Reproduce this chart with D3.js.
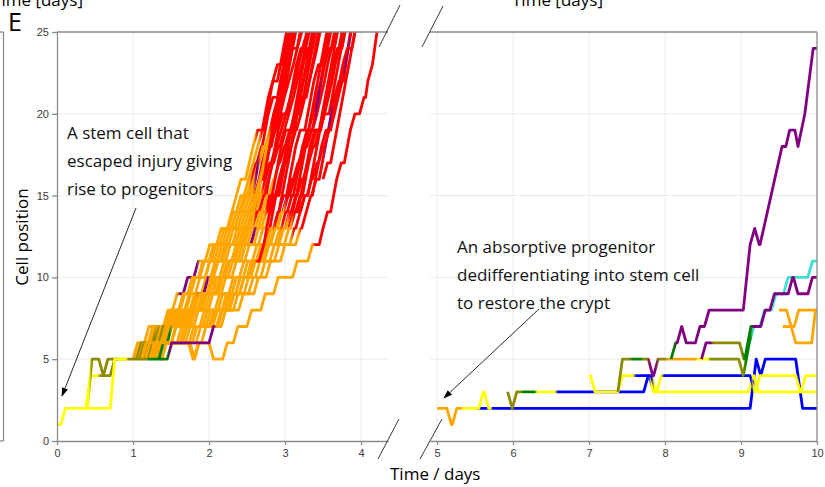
<!DOCTYPE html>
<html>
<head>
<meta charset="utf-8">
<script src="https://cdn.jsdelivr.net/npm/d3@7"></script>
<style>
  body { margin: 0; background: #fff; }
  svg { display: block; }
</style>
</head>
<body>
<svg id="chart" width="825" height="487"></svg>
<script>
// Cell-state colours
const stateColors = {
  Y: "#ffff00",   // yellow
  O: "#8b8b00",   // olive
  G: "#008000",   // green
  A: "#ffa500",   // orange
  P: "#800080",   // purple
  R: "#ff0000",   // red
  B: "#0000ff",   // blue
  T: "#40e0d0"    // turquoise
};

const yTicks = [0, 5, 10, 15, 20, 25];
const xTicksLeft = [0, 1, 2, 3, 4];
const xTicksRight = [5, 6, 7, 8, 9, 10];

// Trajectories: start [time, position]; moves are either a time (one position up)
// or [time, newPosition, duration?]; colors are [state, time of change].
const leftTracks = [
  // cells arising higher up in the lineage
  {start:[2.3,11], moves:[2.3,2.4,2.52,2.58,2.62,2.66,2.70,2.82,2.86,2.90,2.94,2.98,3.02,3.06,3.10], colors:[["A",0],["R",2.5]]},
  {start:[2.5,10], moves:[2.5,2.62,2.74,2.80,2.84,2.88,2.92,3.04,3.08,3.12,3.16,3.20,3.24,3.28,3.32,3.36], colors:[["A",0],["R",2.7]]},
  {start:[2.75,12], moves:[2.75,2.85,2.92,2.96,3.00,3.04,3.08,3.12,3.16,3.28,3.32,3.36,3.40,3.44], colors:[["A",0],["R",2.8]]},
  {start:[2.9,12], moves:[2.9,3.0,3.1,3.15,3.19,3.23,3.27,3.31,3.35,3.39,3.43,3.47,3.51,3.55], colors:[["A",0],["R",3.0]]},
  {start:[3.05,13], moves:[3.05,3.17,3.21,3.25,3.29,3.33,3.45,3.49,3.53,3.57,3.61,3.65,3.69], colors:[["R",0]]},
  {start:[3.2,14], moves:[3.2,3.3,3.34,3.38,3.42,3.46,3.58,3.62,3.66,3.70,3.74,3.78], colors:[["R",0]]},
  {start:[3.35,15], moves:[3.35,3.45,3.49,3.53,3.57,3.61,3.65,3.77,3.80,3.83,3.86], colors:[["R",0],["P",3.52],["R",3.62]]},
  {start:[2.6,14], moves:[2.6,2.64,2.68,2.72,2.76,2.88,2.92,2.96,3.00,3.04,3.08,3.12], colors:[["R",0]]},
  {start:[2.2,10], moves:[2.2,2.34,2.46,2.52,2.56,2.6,2.72,2.76,2.8,2.84,2.88,2.92,2.96,3.0,3.04,3.08], colors:[["A",0],["R",2.55]]},
  {start:[3.5,16], moves:[3.5,3.6,3.64,3.68,3.72,3.76,3.8,3.84,3.88,3.92], colors:[["R",0]]},
  // progenitors leaving position 5
  {start:[1.0,5], moves:[1.00,1.15,1.40,1.52,1.66,1.80,1.95,2.10,2.24,2.30,2.36,2.48,2.53,2.58,2.70,2.74,2.78,2.90,2.94,2.98,3.02], colors:[["A",0],["P",1.6],["A",1.86],["R",2.62]]},
  {start:[1.02,5], moves:[1.02,1.20,1.43,1.60,1.72,1.86,2.00,2.14,2.26,2.36,2.46,2.52,2.58,2.64,2.72,2.76,2.80,2.84,2.95,3.00,3.05], colors:[["A",0],["R",2.68]]},
  {start:[1.03,5], moves:[1.03,1.25,1.46,1.62,1.75,1.88,2.03,2.18,2.30,2.40,2.50,2.56,2.63,2.70,2.74,2.78,2.90,2.94,2.98,3.02,3.06], colors:[["A",0],["R",2.55]]},
  {start:[1.04,5], moves:[1.04,1.23,1.49,1.70,1.76,1.95,2.07,2.22,2.34,2.43,2.53,2.59,2.66,2.74,2.80,2.86,2.92,2.97,3.03,3.09,3.13], colors:[["A",0],["R",2.85]]},
  {start:[1.05,5], moves:[1.05,1.26,1.52,1.68,1.82,1.95,2.11,2.26,2.38,2.47,2.57,2.61,2.65,2.77,2.81,2.85,2.98,3.02,3.06,3.10,3.14], colors:[["O",0],["A",1.3],["P",2.6],["A",2.66],["R",2.75]]},
  {start:[1.07,5], moves:[1.07,1.29,1.55,[1.62,7],1.68,1.80,1.92,2.02,2.15,2.31,2.42,2.51,2.61,2.67,2.74,2.81,2.88,2.94,2.99,3.05,3.11,3.16,3.22], colors:[["O",0],["A",1.35],["R",2.7]]},
  {start:[1.08,5], moves:[1.08,1.31,1.58,1.75,1.90,2.03,2.18,2.35,2.46,2.55,2.64,2.68,2.72,2.76,2.80,2.92,2.96,3.00,3.04,3.16,3.20], colors:[["A",0],["R",2.8]]},
  {start:[1.09,5], moves:[1.09,1.34,1.61,1.78,1.93,2.06,2.22,2.39,2.50,2.58,2.68,2.74,2.82,2.89,2.95,3.01,3.07,3.13,3.18,3.23,3.29], colors:[["O",0],["A",1.45],["P",1.85],["A",2.0],["R",2.7]]},
  {start:[1.11,5], moves:[1.11,1.37,1.64,1.81,1.97,[2.05,9],2.12,2.20,2.30,2.43,2.53,2.62,2.72,2.78,2.85,2.93,2.99,3.05,3.11,3.16,3.22,3.27,3.32], colors:[["A",0],["R",2.72]]},
  {start:[1.12,5], moves:[1.12,1.39,1.67,1.85,2.00,2.14,2.30,2.47,2.57,2.66,2.75,2.79,2.83,2.87,2.91,3.03,3.07,3.11,3.15,3.26,3.30], colors:[["A",0],["R",2.6]]},
  {start:[1.14,5], moves:[1.14,1.42,1.70,1.88,2.04,2.18,2.34,2.51,2.61,2.70,2.79,2.86,2.93,3.00,3.07,3.13,3.19,3.24,3.29,3.34,3.39], colors:[["A",0],["R",2.9]]},
  {start:[1.15,5], moves:[1.15,1.45,1.73,1.91,2.08,2.21,2.38,2.55,2.65,2.74,2.83,2.87,2.91,2.95,3.08,3.12,3.16,3.20,3.24,3.36,3.40], colors:[["G",0],["A",1.5],["P",2.5],["A",2.62],["R",2.75]]},
  {start:[1.16,5], moves:[1.16,[1.31,5],1.38,1.50,1.76,1.95,2.11,2.25,2.42,2.59,2.69,2.77,2.87,2.93,3.01,3.08,3.15,3.21,3.26,3.32,3.37,3.42,3.46], colors:[["A",0],["R",2.75]]},
  {start:[1.18,5], moves:[1.18,1.51,1.80,1.99,2.16,2.30,2.47,2.65,2.74,2.82,2.92,2.96,3.00,3.04,3.08,3.20,3.24,3.28,3.32,3.36,3.40], colors:[["A",0],["R",2.8]]},
  {start:[1.20,5], moves:[1.20,[1.73,5],1.80,1.90,2.03,2.21,2.35,2.52,2.70,2.80,2.87,2.97,3.03,3.11,3.18,3.25,3.31,3.37,3.42,3.47,3.51,3.56,3.60], colors:[["O",0],["A",1.35],["P",2.95],["R",3.04]]},
  {start:[1.22,5], moves:[1.22,1.58,1.88,2.08,2.26,2.40,2.57,2.76,2.85,2.92,3.02,3.06,3.10,3.14,3.26,3.30,3.34,3.38,3.50,3.54,3.58], colors:[["A",0],["R",2.85]]},
  {start:[1.23,5], moves:[1.23,1.62,1.92,2.12,2.30,2.45,2.63,2.81,2.90,2.98,3.06,3.14,3.21,3.29,3.36,3.42,3.47,3.52,3.56,3.61,3.65], colors:[["A",0],["R",3.0]]},
  {start:[1.25,5], moves:[1.25,1.65,1.96,2.17,2.35,2.50,2.68,2.87,2.95,3.03,3.11,3.15,3.19,3.23,3.36,3.40,3.44,3.48,3.52,3.64,3.68], colors:[["A",0],["R",2.95],["P",3.4],["R",3.47]]},
  {start:[1.27,5], moves:[1.27,1.69,2.00,2.21,2.40,2.55,2.73,2.92,3.01,3.08,3.16,3.24,3.31,3.39,3.46,3.52,3.57,3.62,3.66,3.71,3.75], colors:[["A",0],["R",3.05]]},
  {start:[1.29,5], moves:[1.29,1.74,2.05,2.27,2.46,2.61,2.80,2.99,3.07,3.14,3.23,3.27,3.31,3.35,3.47,3.51,3.55,3.59,3.63,3.75,3.79], colors:[["A",0],["R",3.1]]},
  {start:[1.32,5], moves:[1.32,1.78,2.10,2.32,2.52,2.68,2.86,3.06,3.14,3.20,3.29,3.36,3.44,3.52,3.59,3.65,3.70,3.75,3.79,3.83,3.87], colors:[["A",0],["R",3.1],["P",3.78],["R",3.85]]},
  {start:[1.34,5], moves:[1.34,1.83,2.16,2.39,2.59,2.75,2.94,3.14,3.22,3.28,3.36,3.40,3.44,3.48,3.60,3.64,3.68,3.72,3.76,3.88,3.92], colors:[["G",0],["A",1.42],["R",3.2]]},
  {start:[1.12,5], moves:[1.12,[1.75,5],1.81,[2.0,5],2.18,2.32,2.50,2.68,2.85,3.10,3.30,3.45,3.50,3.60,3.64,3.68,3.78,3.82,3.86,3.98,4.06,4.09,4.15,4.18,4.21], colors:[["A",0],["R",3.38]]},
  // stem cell that escaped injury and its early daughters
  {start:[0.38,2], moves:[[0.38,4],[0.70,5]], end:0.9, colors:[["Y",0],["O",0.55]]},
  {start:[0.40,2], moves:[[0.40,5],[0.55,4],0.61], end:0.8, colors:[["Y",0],["O",0.44]]},
  {start:[0,1], moves:[0.05,[0.70,5],1.45,2.0,2.12,2.25,2.4,2.52,2.66,2.72,2.76,2.80,2.9,2.94,2.98,3.02,3.1,3.14,3.17,3.2,3.23,3.26,3.29], colors:[["Y",0],["O",0.92],["G",1.2],["P",1.47],["A",2.08],["R",2.62]]}
];

const rightTracks = [
  {start:[5.0,2], moves:[[5.13,1],5.2,[9.12,5,0.08],[9.2,4],9.26,[9.72,2,0.09]], end:10, colors:[["A",5],["Y",5.33],["B",5.52]]},
  {start:[5.5,2], moves:[5.55,[5.62,2]], end:5.72, colors:[["Y",5.5]]},
  {start:[5.93,3], moves:[[5.93,2],5.99,7.72,[7.79,3],9.10,[9.17,3]], end:10, colors:[["O",5.93],["G",6.12],["Y",6.3],["B",6.57],["Y",7.8]]},
  {start:[7.0,4], moves:[[7.02,3],7.38,[7.82,3],7.89,[9.12,3],9.19,[9.72,3],9.79], end:10, colors:[["Y",7],["B",7.6],["Y",7.84],["B",7.97],["Y",9.15]]},
  {start:[7.38,3], moves:[[7.38,5],[7.78,4],7.85,[8.97,4],[9.03,6,0.08],9.11,9.25,9.40,9.56,9.88], end:10, colors:[["O",7.38],["G",7.55],["O",7.7],["P",7.78],["O",7.9],["A",8.02],["Y",8.42],["O",8.58],["G",9.05],["T",9.14]]},
  {start:[8.08,5], moves:[8.08,8.16,[8.22,6],8.40,8.52,[9.03,12,0.09],9.12,[9.18,12],[9.25,18,0.29],[9.59,19,0.05],[9.71,18,0.04],[9.75,20,0.09],[9.84,24,0.11]], end:10, colors:[["G",8.08],["P",8.14]]},
  {start:[8.48,5], moves:[8.48,[8.98,5],[9.05,7,0.08],9.26,9.38,9.62,[9.69,9],9.88], end:10, colors:[["P",8.48],["O",8.62],["G",9.03],["P",9.15]]},
  {start:[9.5,8], moves:[[9.6,7],9.7], end:10, colors:[["A",9.5]]},
  {start:[9.55,7], moves:[[9.66,6],[9.93,8,0.05]], end:10, colors:[["A",9.55]]}
];

const RAMP = 0.06;   // time a single move takes, in days
const BLEND = 0.02;  // half-width of a colour transition, in days

const svg = d3.select("#chart");
const defs = svg.append("defs");

const y = d3.scaleLinear().domain([0, 25]).range([441, 32]);
const xL = d3.scaleLinear().domain([0, 4.355]).range([57, 388]);
const xR = d3.scaleLinear().domain([4.908, 10]).range([430, 817]);

const gridColor = "#ebebeb";
const frameColor = "#8a8a8a";

// clip regions
defs.append("clipPath").attr("id", "clipL").append("rect")
  .attr("x", xL(0)).attr("y", y(25)).attr("width", xL(4.355) - xL(0)).attr("height", y(0) - y(25));
defs.append("clipPath").attr("id", "clipR").append("rect")
  .attr("x", xR(4.908)).attr("y", y(25)).attr("width", xR(10) - xR(4.908)).attr("height", y(0) - y(25));

// arrowhead
defs.append("marker").attr("id", "arrow").attr("viewBox", "0 0 10 10")
  .attr("refX", 9).attr("refY", 5).attr("markerWidth", 9).attr("markerHeight", 9)
  .attr("markerUnits", "userSpaceOnUse").attr("orient", "auto")
  .append("path").attr("d", "M0,1.5 L10,5 L0,8.5 Z").attr("fill", "#000");

// gridlines
function grid(x, xTicks, x0, x1) {
  const g = svg.append("g");
  g.selectAll(".vg").data(xTicks).join("line")
    .attr("x1", d => x(d)).attr("x2", d => x(d))
    .attr("y1", y(0)).attr("y2", y(25))
    .attr("stroke", gridColor).attr("stroke-width", 1);
  g.selectAll(".hg").data([5, 10, 15, 20]).join("line")
    .attr("x1", x(x0)).attr("x2", x(x1))
    .attr("y1", d => y(d)).attr("y2", d => y(d))
    .attr("stroke", gridColor).attr("stroke-width", 1);
}
grid(xL, xTicksLeft.slice(1), 0, 4.355);
grid(xR, xTicksRight.slice(0, -1), 4.908, 10);

// build the polyline of one trajectory
function vertices(track) {
  const pts = [[track.start[0], track.start[1]]];
  let p = track.start[1];
  let last = track.start[0];
  const mv = [];
  for (const m of track.moves) {
    if (Array.isArray(m)) mv.push({t: m[0], p: m[1], d: m[2] ?? RAMP});
    else { mv.push({t: m, p: null, d: RAMP}); }
  }
  mv.forEach((m, i) => {
    const target = m.p === null ? p + 1 : m.p;
    let arrive = m.t + m.d;
    if (i + 1 < mv.length && mv[i + 1].t < arrive) arrive = mv[i + 1].t;
    if (m.t > last + 1e-6) pts.push([m.t, p]);
    pts.push([arrive, target]);
    p = target;
    last = arrive;
  });
  if (track.end !== undefined && track.end > last) pts.push([track.end, p]);
  return pts;
}

let gradId = 0;
function drawTracks(tracks, x, clipId) {
  const g = svg.append("g").attr("clip-path", `url(#${clipId})`);
  const line = d3.line().x(d => x(d[0])).y(d => y(d[1]));
  tracks.forEach(track => {
    const pts = vertices(track);
    const t0 = pts[0][0], t1 = pts[pts.length - 1][0];
    let stroke;
    if (track.colors.length === 1) {
      stroke = stateColors[track.colors[0][0]];
    } else {
      const id = "g" + (gradId++);
      const grad = defs.append("linearGradient").attr("id", id)
        .attr("gradientUnits", "userSpaceOnUse")
        .attr("x1", x(t0)).attr("x2", x(t1)).attr("y1", 0).attr("y2", 0);
      const off = t => Math.max(0, Math.min(1, (t - t0) / (t1 - t0)));
      let prev = track.colors[0][0];
      grad.append("stop").attr("offset", 0).attr("stop-color", stateColors[prev]);
      track.colors.slice(1).forEach(([c, tc]) => {
        grad.append("stop").attr("offset", off(tc - BLEND)).attr("stop-color", stateColors[prev]);
        grad.append("stop").attr("offset", off(tc + BLEND)).attr("stop-color", stateColors[c]);
        prev = c;
      });
      grad.append("stop").attr("offset", 1).attr("stop-color", stateColors[prev]);
      stroke = `url(#${id})`;
    }
    g.append("path").attr("d", line(pts)).attr("fill", "none")
      .attr("stroke", stroke).attr("stroke-width", 2.8)
      .attr("stroke-linejoin", "round");
  });
}
drawTracks(leftTracks, xL, "clipL");
drawTracks(rightTracks, xR, "clipR");

// axes and frame
const tickFont = "'Liberation Sans', Arial, sans-serif";
function styleAxis(g) {
  g.select(".domain").attr("stroke", frameColor).attr("stroke-width", 1.3);
  g.selectAll(".tick line").attr("stroke", frameColor).attr("stroke-width", 1.3);
  g.selectAll(".tick text").attr("fill", "#3a3a3a").attr("font-size", 11).attr("font-family", tickFont);
}
const fmt = d3.format("d");
svg.append("g").attr("transform", `translate(${xL(0)},0)`)
  .call(d3.axisLeft(y).tickValues(yTicks).tickFormat(fmt).tickSize(5).tickSizeOuter(0).tickPadding(3))
  .call(styleAxis);
svg.append("g").attr("transform", `translate(0,${y(0)})`)
  .call(d3.axisBottom(xL).tickValues(xTicksLeft).tickFormat(fmt).tickSize(4).tickSizeOuter(0).tickPadding(4))
  .call(styleAxis);
svg.append("g").attr("transform", `translate(0,${y(0)})`)
  .call(d3.axisBottom(xR).tickValues(xTicksRight).tickFormat(fmt).tickSize(4).tickSizeOuter(0).tickPadding(4))
  .call(styleAxis);

const frame = svg.append("g").attr("stroke", frameColor).attr("stroke-width", 1.3);
frame.append("line").attr("x1", xL(0)).attr("x2", xL(4.355)).attr("y1", y(25)).attr("y2", y(25));
frame.append("line").attr("x1", xR(4.908)).attr("x2", xR(10)).attr("y1", y(25)).attr("y2", y(25));
frame.append("line").attr("x1", xR(10)).attr("x2", xR(10)).attr("y1", y(25)).attr("y2", y(0));

// edge of the neighbouring panel
const edge = svg.append("g").attr("stroke", frameColor).attr("stroke-width", 1.3);
edge.append("line").attr("x1", 3.5).attr("x2", 3.5).attr("y1", y(25)).attr("y2", y(0));
edge.append("line").attr("x1", 0).attr("x2", 3.5).attr("y1", y(25)).attr("y2", y(25));
edge.append("line").attr("x1", 0).attr("x2", 3.5).attr("y1", y(0)).attr("y2", y(0));

// axis break marks
const brk = svg.append("g").attr("stroke", "#222").attr("stroke-width", 0.9);
[[379, 47, 400, 5], [422, 47, 443, 6], [378, 459, 399, 419], [420, 459, 442, 419]].forEach(s => {
  brk.append("line").attr("x1", s[0]).attr("y1", s[1]).attr("x2", s[2]).attr("y2", s[3]);
});

// titles and labels
const textFont = "'Open Sans', 'Noto Sans', sans-serif";
svg.append("text").attr("x", 83).attr("y", 6).attr("text-anchor", "end")
  .attr("font-family", textFont).attr("font-size", 17).text("Time [days]");
svg.append("text").attr("x", 512).attr("y", 6)
  .attr("font-family", textFont).attr("font-size", 17).text("Time [days]");
svg.append("text").attr("x", 8).attr("y", 31)
  .attr("font-family", textFont).attr("font-size", 25).text("E");
svg.append("text").attr("transform", "translate(28,237) rotate(-90)").attr("text-anchor", "middle")
  .attr("font-family", textFont).attr("font-size", 17).text("Cell position");
svg.append("text").attr("x", 390).attr("y", 480)
  .attr("font-family", textFont).attr("font-size", 17).text("Time / days");

function note(lines, x0, y0) {
  const t = svg.append("text").attr("font-family", textFont).attr("font-size", 17).attr("fill", "#111");
  lines.forEach((s, i) => t.append("tspan").attr("x", x0).attr("y", y0 + i * 28).text(s));
}
note(["A stem cell that", "escaped injury giving", "rise to progenitors"], 67, 139);
note(["An absorptive progenitor", "dedifferentiating into stem cell", "to restore the crypt"], 457, 253);

svg.append("line").attr("x1", 136).attr("y1", 208).attr("x2", 62).attr("y2", 396)
  .attr("stroke", "#111").attr("stroke-width", 0.9).attr("marker-end", "url(#arrow)");
svg.append("line").attr("x1", 539).attr("y1", 309).attr("x2", 444).attr("y2", 398)
  .attr("stroke", "#111").attr("stroke-width", 0.9).attr("marker-end", "url(#arrow)");
</script>
</body>
</html>
